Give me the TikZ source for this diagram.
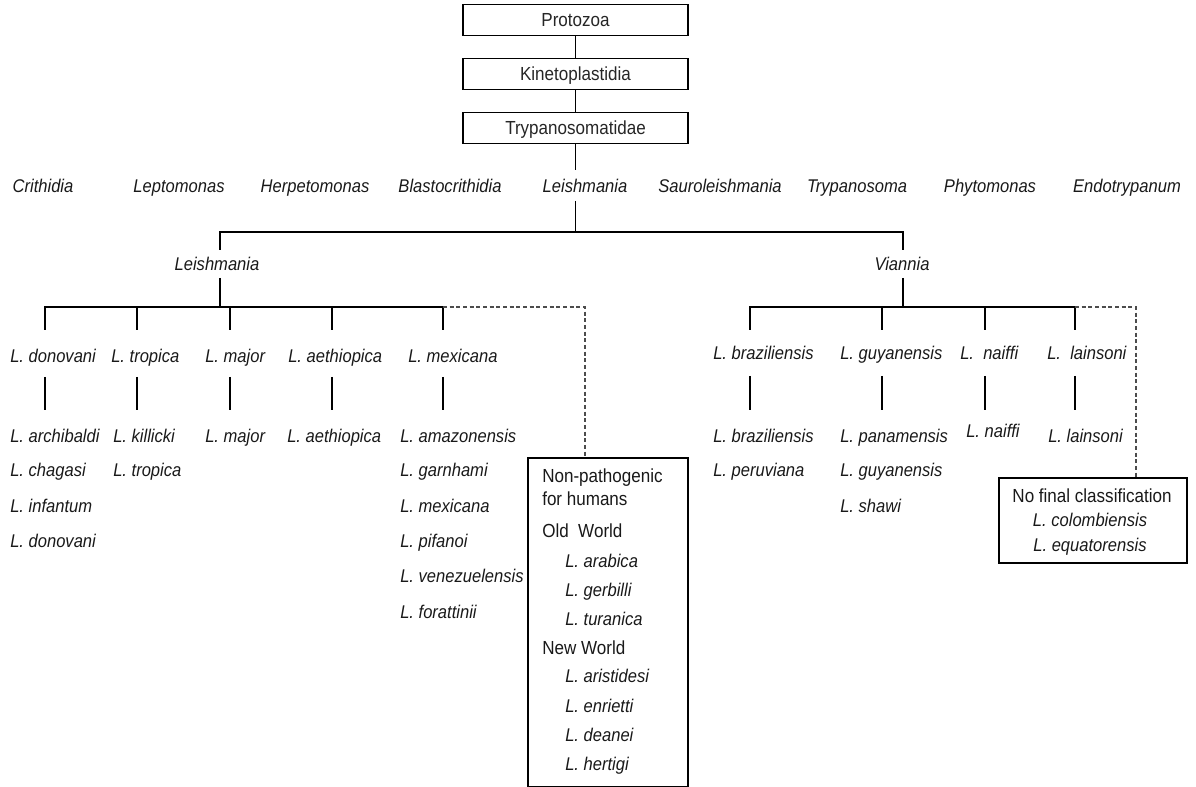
\documentclass[tikz,border=0pt]{standalone}
\usepackage{fontspec}
\setmainfont{Liberation Sans}[FakeStretch=0.9]
\begin{document}
\begin{tikzpicture}[x=0.75pt,y=-0.75pt,
  every node/.style={font=\fontsize{14.2}{16}\selectfont, text=black!90, inner sep=0pt, text height=12pt, text depth=1.6pt},
  taxbox/.style={draw, line width=1.1pt, minimum width=225*0.75pt, minimum height=31*0.75pt, text=black!85},
  sp/.style={anchor=west, font=\fontsize{13.8}{16}\selectfont\itshape},
  gen/.style={font=\fontsize{13.8}{16}\selectfont\itshape},
  ln/.style={line width=1.1pt},
  dl/.style={line width=1.1pt, densely dashed, black!70}]
\useasboundingbox (0,0) rectangle (1196,787);
% top boxes
\node[taxbox] (proto) at (575.5,20) {Protozoa};
\node[taxbox] (kin) at (575.5,74) {Kinetoplastidia};
\node[taxbox] (tryp) at (575.5,128) {Trypanosomatidae};
\draw[ln] (proto) -- (kin);
\draw[ln] (kin) -- (tryp);
% genera
\node[gen] (g1) at (43,186) {Crithidia};
\node[gen] (g2) at (179,186) {Leptomonas};
\node[gen] (g3) at (315,186) {Herpetomonas};
\node[gen] (g4) at (450,186) {Blastocrithidia};
\node[gen] (g5) at (585,186) {Leishmania};
\node[gen] (g6) at (720,186) {Sauroleishmania};
\node[gen] (g7) at (857,186) {Trypanosoma};
\node[gen] (g8) at (990,186) {Phytomonas};
\node[gen] (g9) at (1127,186) {Endotrypanum};
\coordinate (gt) at (575.5,170);
\coordinate (gb) at (575.5,201);
\draw[ln] (tryp.south) -- (gt);
% subgenera
\node[gen] (sL) at (217,264) {Leishmania};
\node[gen] (sV) at (902,264) {Viannia};
\draw[ln] (gb) -- (575.5,232) -| (220,250);
\draw[ln] (575.5,232) -| (903,250);
% Leishmania subgenus bracket
\draw[ln] (220,278) -- (220,307);
\draw[ln] (45,330) -- (45,307) -- (443,307);
\foreach \x in {137,230,332,443} \draw[ln] (\x,307) -- (\x,330);
\draw[dl] (443,307) -- (585,307) -- (585,458);
% species complexes
\node[sp] (don) at (10,356) {L. donovani};
\node[sp] (tro) at (111,356) {L. tropica};
\node[sp] (maj) at (205,356) {L. major};
\node[sp] (aet) at (288,356) {L. aethiopica};
\node[sp] (mex) at (408,356) {L. mexicana};
\foreach \x in {45,137,230,332,443} \draw[ln] (\x,377) -- (\x,410);
\node[sp] at (10,436) {L. archibaldi};
\node[sp] at (10,470) {L. chagasi};
\node[sp] at (10,506) {L. infantum};
\node[sp] at (10,541) {L. donovani};
\node[sp] at (113,436) {L. killicki};
\node[sp] at (113,470) {L. tropica};
\node[sp] at (205,436) {L. major};
\node[sp] at (287,436) {L. aethiopica};
\node[sp] at (400,436) {L. amazonensis};
\node[sp] at (400,470) {L. garnhami};
\node[sp] at (400,506) {L. mexicana};
\node[sp] at (400,541) {L. pifanoi};
\node[sp] at (400,576) {L. venezuelensis};
\node[sp] at (400,612) {L. forattinii};
% Non-pathogenic box
\draw[ln] (528,458) rectangle (688,787);
\node[anchor=west] at (542,476) {Non-pathogenic};
\node[anchor=west] at (542,499) {for humans};
\node[anchor=west] at (542,531) {Old\ \ World};
\node[sp] at (565,561) {L. arabica};
\node[sp] at (565,590) {L. gerbilli};
\node[sp] at (565,619) {L. turanica};
\node[anchor=west] at (542,648) {New World};
\node[sp] at (565,676) {L. aristidesi};
\node[sp] at (565,706) {L. enrietti};
\node[sp] at (565,735) {L. deanei};
\node[sp] at (565,764) {L. hertigi};
% Viannia bracket
\draw[ln] (903,278) -- (903,307);
\draw[ln] (750,330) -- (750,307) -- (1075,307);
\foreach \x in {882,985,1075} \draw[ln] (\x,307) -- (\x,330);
\draw[dl] (1075,307) -- (1136,307) -- (1136,478);
\node[sp] at (713,353) {L. braziliensis};
\node[sp] at (840,353) {L. guyanensis};
\node[sp] at (960,353) {L.\ \ naiffi};
\node[sp] at (1047,353) {L.\ \ lainsoni};
\foreach \x in {750,882,985,1075} \draw[ln] (\x,376) -- (\x,410);
\node[sp] at (713,436) {L. braziliensis};
\node[sp] at (713,470) {L. peruviana};
\node[sp] at (840,436) {L. panamensis};
\node[sp] at (840,470) {L. guyanensis};
\node[sp] at (840,506) {L. shawi};
\node[sp] at (966,431) {L. naiffi};
\node[sp] at (1048,436) {L. lainsoni};
% No final classification box
\draw[ln] (999,478) rectangle (1187,563);
\node at (1092,496) {No final classification};
\node[gen] at (1090,520) {L. colombiensis};
\node[gen] at (1090,545) {L. equatorensis};
\end{tikzpicture}
\end{document}
